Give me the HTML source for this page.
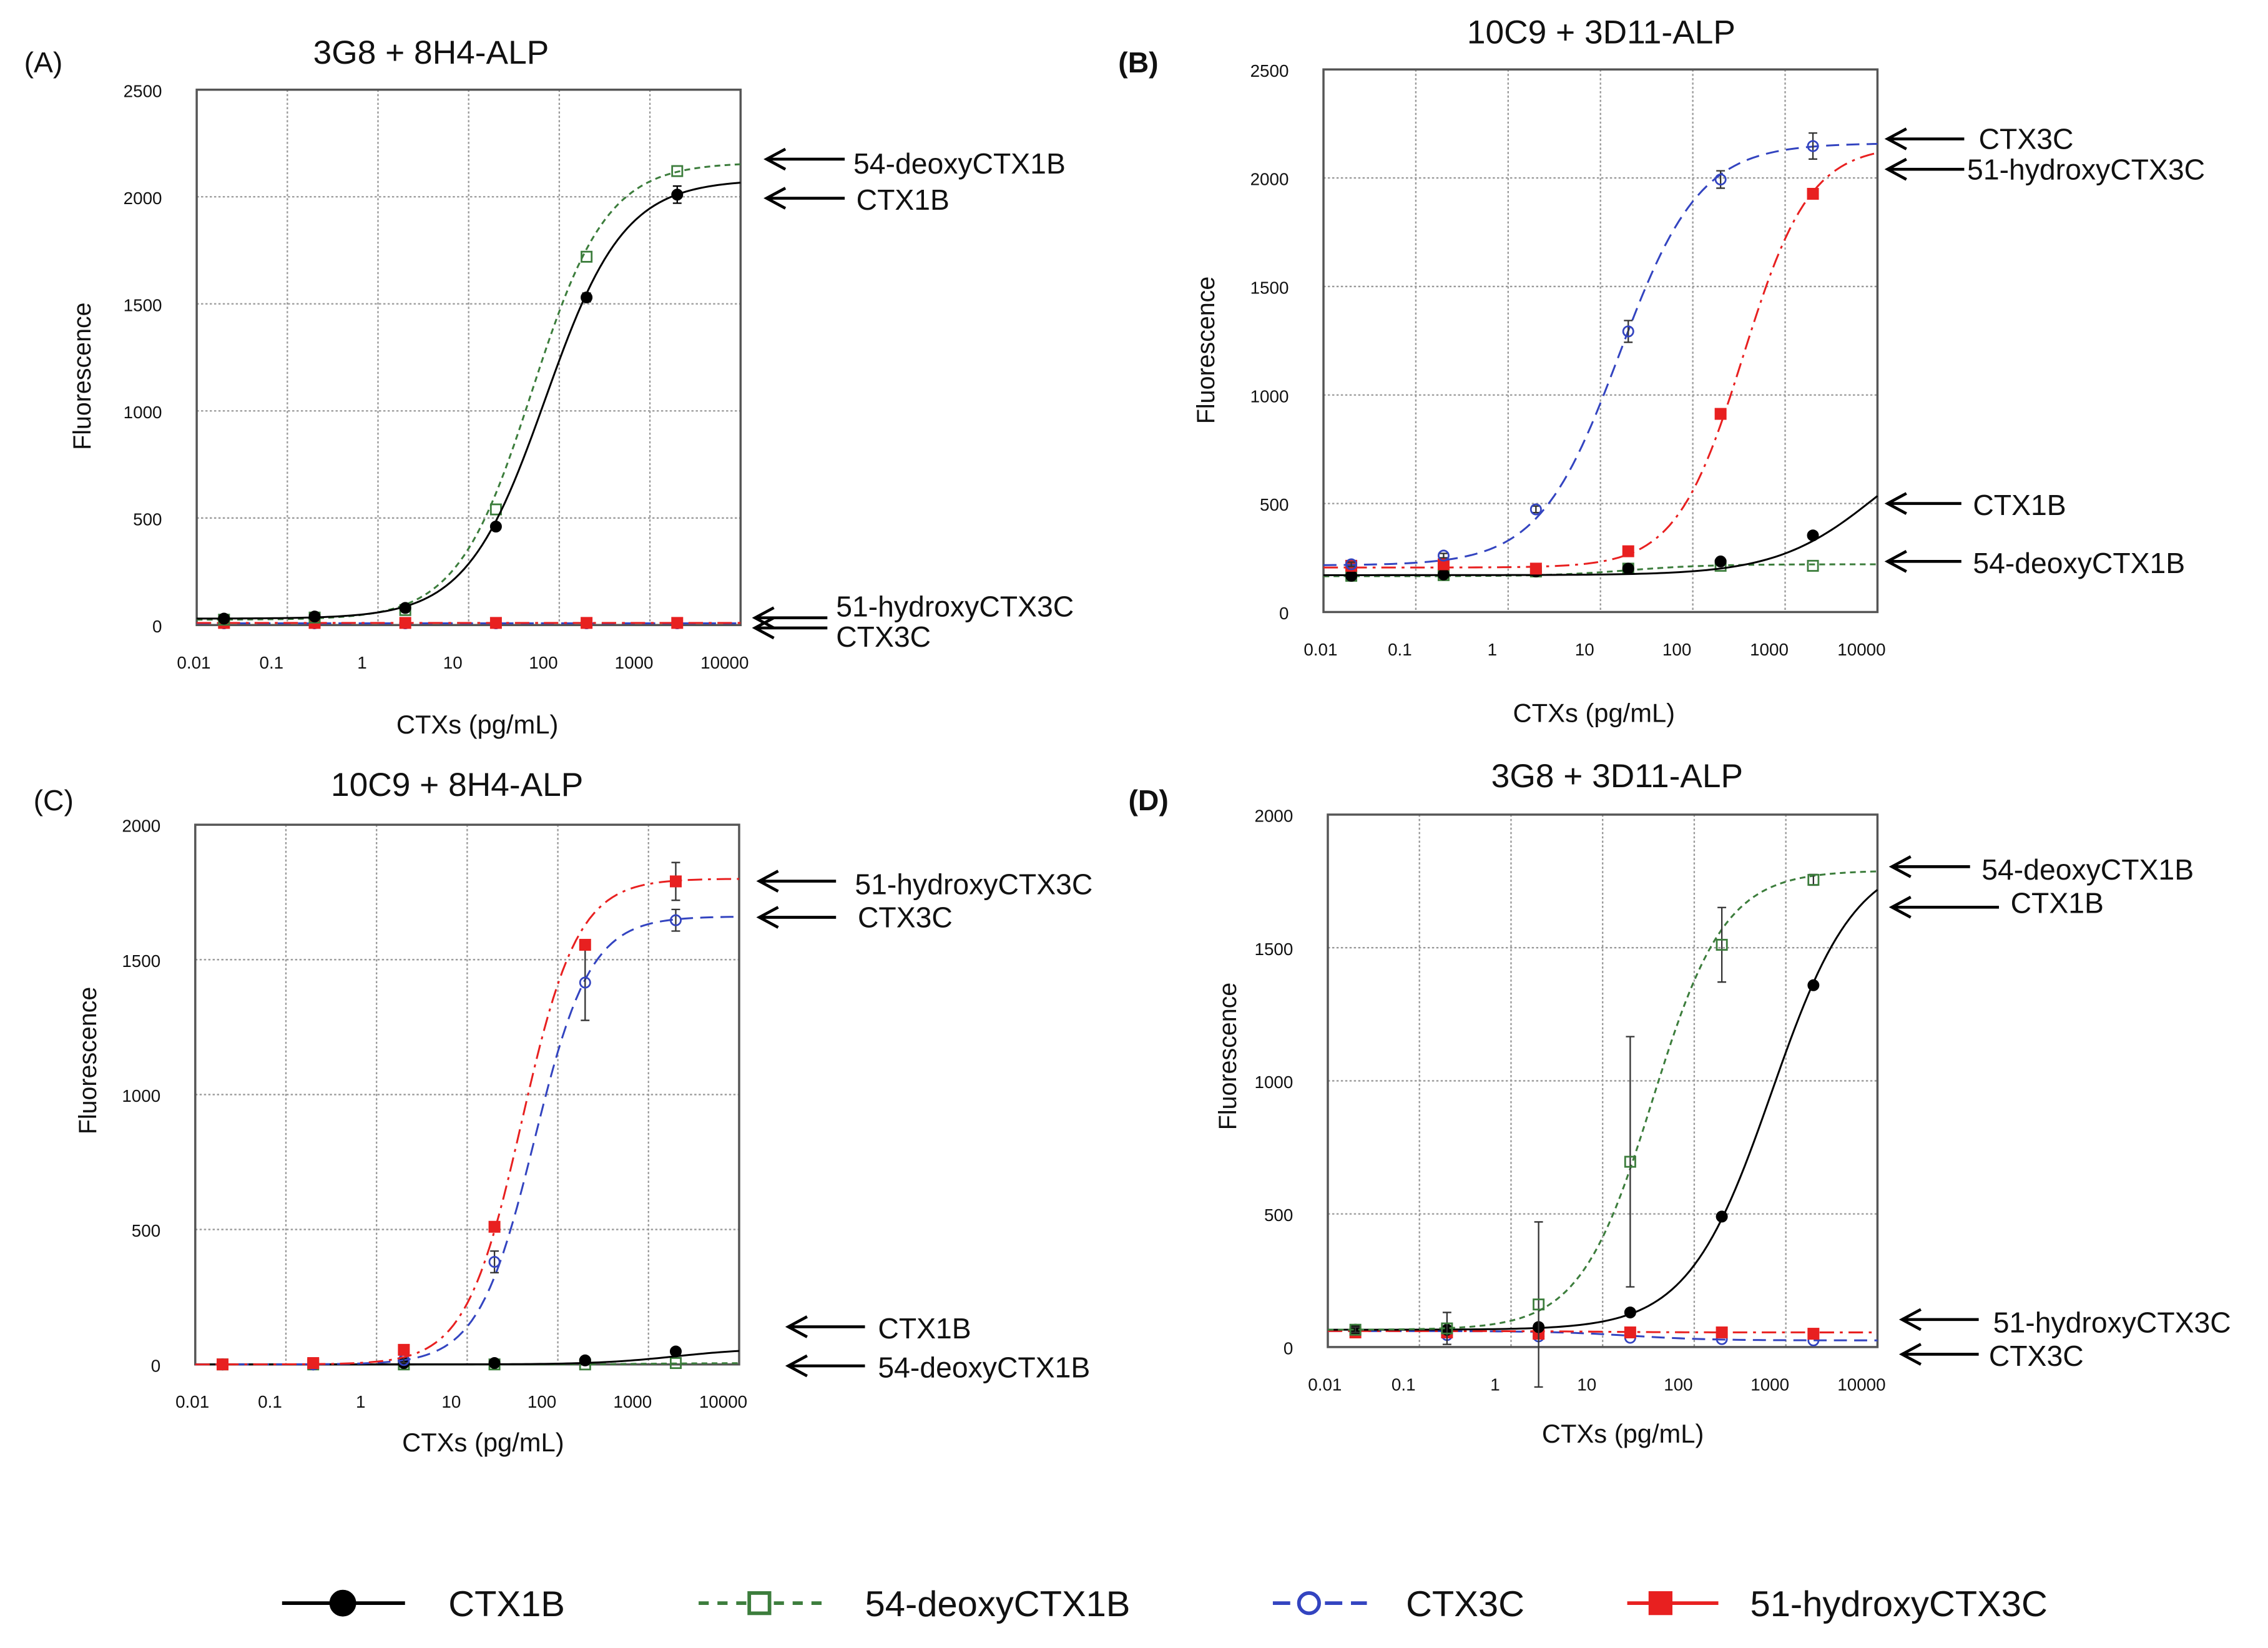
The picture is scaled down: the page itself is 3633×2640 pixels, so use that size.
<!DOCTYPE html>
<html><head><meta charset="utf-8"><style>
html,body{margin:0;padding:0;background:#fff;}
svg{display:block;}
text{font-family:"Liberation Sans",sans-serif;fill:#111;}
</style></head><body>
<svg id="fig" width="3633" height="2640" viewBox="0 0 1568 1139" preserveAspectRatio="none" xmlns="http://www.w3.org/2000/svg">
<g id="root"></g>
</svg>
<script>
const conc = [0.02, 0.2, 2, 20, 200, 2000];
const xTickLabels = ["0.01","0.1","1","10","100","1000","10000"];
const yTicks2500 = [0,500,1000,1500,2000,2500];
const yTicks2000 = [0,500,1000,1500,2000];
// Panel A
const aCtx1b = [30, 40, 80, 460, 1530, 2010];
const aCtx1bErr = [10, 10, 10, 15, 20, 40];
const aDeoxy = [25, 35, 70, 540, 1720, 2120];
const aHydroxy = [10, 10, 10, 10, 10, 10];
const aCtx3c = [8, 8, 8, 8, 8, 8];
const aFitCtx1b = [30, 2080, 70, 1];
const aFitDeoxy = [25, 2160, 50, 1.05];
const aFitHydroxy = [10, 10, 1, 1];
const aFitCtx3c = [8, 8, 1, 1];
// Panel B
const bCtx3c = [220, 260, 473, 1293, 1993, 2147];
const bCtx3cErr = [10, 10, 15, 50, 40, 60];
const bHydroxy = [213, 220, 200, 280, 913, 1927];
const bCtx1b = [167, 173, 187, 200, 233, 353];
const bDeoxy = [167, 170, 187, 200, 213, 213];
const bFitCtx3c = [215, 2160, 16, 1];
const bFitHydroxy = [205, 2150, 350, 1.2];
const bFitCtx1b = [170, 900, 10000, 0.8];
const bFitDeoxy = [165, 220, 20, 1];
// Panel C
const cHydroxy = [0, 5, 54, 510, 1555, 1790];
const cHydroxyErr = [5, 5, 10, 10, 10, 70];
const cCtx3c = [0, 0, 16, 380, 1415, 1646];
const cCtx3cErr = [5, 5, 10, 40, 140, 40];
const cCtx1b = [0, 0, 5, 5, 15, 48];
const cDeoxy = [0, 0, 0, 0, 0, 5];
const cFitHydroxy = [0, 1800, 40, 1.4];
const cFitCtx3c = [0, 1660, 55, 1.4];
const cFitCtx1b = [0, 60, 2000, 1];
const cFitDeoxy = [0, 5, 1000, 1];
// Panel D
const dDeoxy = [65, 70, 160, 696, 1511, 1755];
const dDeoxyErr = [10, 60, 310, 470, 140, 20];
const dCtx1b = [65, 65, 75, 130, 490, 1359];
const dHydroxy = [55, 55, 50, 55, 55, 50];
const dCtx3c = [60, 45, 40, 35, 30, 25];
const dFitDeoxy = [65, 1790, 35, 1.1];
const dFitCtx1b = [65, 1850, 700, 0.95];
const dFitHydroxy = [60, 55, 10, 1];
const dFitCtx3c = [60, 25, 20, 1];

const NS = "http://www.w3.org/2000/svg";
const root = document.getElementById("root");
function mk(tag, attrs, parent){const e=document.createElementNS(NS,tag);for(const k in attrs)e.setAttribute(k,attrs[k]);(parent||root).appendChild(e);return e;}
function txt(s, attrs, parent){const e=mk("text",attrs,parent);e.textContent=s;return e;}

const STY = {
  ctx1b:{c:"#000",dash:"none",m:"circle",fill:"#000"},
  deoxy:{c:"#3c7d3c",dash:"4,3",m:"square",fill:"none"},
  ctx3c:{c:"#3344c0",dash:"9,5",m:"circle",fill:"none"},
  hydroxy:{c:"#e82020",dash:"10,4,2,4",m:"square",fill:"#e82020"}
};
function fit(p,x){return p[0]+(p[1]-p[0])/(1+Math.pow(p[2]/x,p[3]));}

function panel(P, series){
  const g = mk("g",{});
  
  
  const xs = v => P.l + (Math.log10(v)+2)/6*(P.r-P.l);
  const ys = v => P.b - v/P.ymax*(P.b-P.t);
  for(let i=1;i<6;i++){const x=xs(Math.pow(10,i-2));const l=mk("line",{x1:x,x2:x,y1:P.t,y2:P.b,stroke:"#999","stroke-width":1,"stroke-dasharray":"1.5,1.5"},g);}
  P.yt.forEach(v=>{if(v>0&&v<P.ymax){const y=ys(v);const l=mk("line",{x1:P.l,x2:P.r,y1:y,y2:y,stroke:"#999","stroke-width":1,"stroke-dasharray":"1.5,1.5"},g);}
    const t=txt(String(v),{x:P.l-24,y:ys(v)+5,"font-size":12,"text-anchor":"end"},g);});
  xTickLabels.forEach((s,i)=>{const t=txt(s,{x:xs(Math.pow(10,i-2))-(i==0?2:11),y:P.b+30,"font-size":12,"text-anchor":"middle"},g);});
  const fr=mk("rect",{x:P.l,y:P.t,width:P.r-P.l,height:P.b-P.t,fill:"none",stroke:"#555","stroke-width":1.5},g);
  
  series.forEach(s=>{
    const st=STY[s.k];
    let d="";for(let i=0;i<=120;i++){const x=Math.pow(10,-2+6*i/120);d+=(i?"L":"M")+xs(x).toFixed(2)+","+ys(fit(s.fit,x)).toFixed(2);}
    const pl=mk("path",{d:d,fill:"none",stroke:st.c,"stroke-width":1.3,"stroke-dasharray":st.dash},g);
    
    s.v.forEach((v,i)=>{
      const x=xs(conc[i]),y=ys(v);
      if(s.e){const e=s.e[i];const eb=mk("path",{d:`M${x},${ys(v+e)}L${x},${ys(v-e)}M${x-3},${ys(v+e)}L${x+3},${ys(v+e)}M${x-3},${ys(v-e)}L${x+3},${ys(v-e)}`,stroke:st.c==="#000"?"#000":"#333","stroke-width":1,fill:"none"},g);}
      let m;
      if(st.m==="circle") m=mk("circle",{cx:x,cy:y,r:3.5,fill:st.fill,stroke:st.c,"stroke-width":1.2},g);
      else m=mk("rect",{x:x-3.5,y:y-3.5,width:7,height:7,fill:st.fill,stroke:st.c,"stroke-width":1.2},g);
      
    });
  });
}

panel({id:"panel-a",l:136,r:512,t:62,b:432,ymax:2500,yt:yTicks2500},[
 {k:"ctx3c",v:aCtx3c,fit:aFitCtx3c},{k:"hydroxy",v:aHydroxy,fit:aFitHydroxy},
 {k:"deoxy",v:aDeoxy,fit:aFitDeoxy},{k:"ctx1b",v:aCtx1b,e:aCtx1bErr,fit:aFitCtx1b}]);
panel({id:"panel-b",l:915,r:1298,t:48,b:423,ymax:2500,yt:yTicks2500},[
 {k:"deoxy",v:bDeoxy,fit:bFitDeoxy},{k:"ctx1b",v:bCtx1b,fit:bFitCtx1b},
 {k:"hydroxy",v:bHydroxy,fit:bFitHydroxy},{k:"ctx3c",v:bCtx3c,e:bCtx3cErr,fit:bFitCtx3c}]);
panel({id:"panel-c",l:135,r:511,t:570,b:943,ymax:2000,yt:yTicks2000},[
 {k:"deoxy",v:cDeoxy,fit:cFitDeoxy},{k:"ctx1b",v:cCtx1b,fit:cFitCtx1b},
 {k:"ctx3c",v:cCtx3c,e:cCtx3cErr,fit:cFitCtx3c},{k:"hydroxy",v:cHydroxy,e:cHydroxyErr,fit:cFitHydroxy}]);
panel({id:"panel-d",l:918,r:1298,t:563,b:931,ymax:2000,yt:yTicks2000},[
 {k:"ctx3c",v:dCtx3c,fit:dFitCtx3c},{k:"hydroxy",v:dHydroxy,fit:dFitHydroxy},
 {k:"ctx1b",v:dCtx1b,fit:dFitCtx1b},{k:"deoxy",v:dDeoxy,e:dDeoxyErr,fit:dFitDeoxy}]);

function label(s,x,y,size,name,extra){const t=txt(s,Object.assign({x:x,y:y,"font-size":size,"text-anchor":"middle"},extra||{}));return t;}
label("(A)",30,50,20,"panel-a-label");label("(B)",787,50,20,"panel-b-label",{"font-weight":"bold"});
label("(C)",37,560,20,"panel-c-label");label("(D)",794,560,20,"panel-d-label",{"font-weight":"bold"});
label("3G8 + 8H4-ALP",298,44,23,"panel-a-title");label("10C9 + 3D11-ALP",1107,30,23,"panel-b-title");
label("10C9 + 8H4-ALP",316,550,23,"panel-c-title");label("3G8 + 3D11-ALP",1118,544,23,"panel-d-title");
[[58,260],[835,242],[62,733],[850,730]].forEach(p=>label("Fluorescence",p[0],p[1],17,"y-axis-title",{transform:`rotate(-90 ${p[0]} ${p[1]})`,"dominant-baseline":"middle"}));
[[330,507],[1102,499],[334,1003],[1122,997]].forEach(p=>label("CTXs (pg/mL)",p[0],p[1],18,"x-axis-title"));

function ann(s,x1,x2,y,tx,ty){
  const l=mk("path",{d:`M${x1},${y}L${x2+1},${y}M${x2+13},${y-7}L${x2},${y}L${x2+13},${y+7}`,fill:"none",stroke:"#000","stroke-width":2});
  
  if(s){const t=txt(s,{x:tx,y:ty,"font-size":20});}
}
ann("54-deoxyCTX1B",584,530,110,590,120);ann("CTX1B",584,530,137,592,145);
ann("",572,522,427,0,0);ann("",572,522,434,0,0);
label("51-hydroxyCTX3C",578,426,20,"annotation-label",{"text-anchor":"start"});label("CTX3C",578,447,20,"annotation-label",{"text-anchor":"start"});
ann("CTX3C",1358,1305,96,1368,103);ann("51-hydroxyCTX3C",1358,1305,117,1360,124);
ann("CTX1B",1356,1305,348,1364,356);ann("54-deoxyCTX1B",1356,1305,388,1364,396);
ann("51-hydroxyCTX3C",578,525,609,591,618);ann("CTX3C",578,525,634,593,641);
ann("CTX1B",598,545,917,607,925);ann("54-deoxyCTX1B",598,545,944,607,952);
ann("54-deoxyCTX1B",1362,1308,599,1370,608);ann("CTX1B",1382,1308,627,1390,631);
ann("51-hydroxyCTX3C",1368,1315,912,1378,921);ann("CTX3C",1368,1315,936,1375,944);

function leg(k,x1,x2,mx,tx,s){
  const st=STY[k];
  const g=mk("g",{});
  mk("line",{x1:x1,x2:x2,y1:1108,y2:1108,stroke:st.c,"stroke-width":2.5,"stroke-dasharray":k==="deoxy"?"7,6":(k==="ctx3c"?"12,6":"none")},g);
  if(st.m==="circle") mk("circle",{cx:mx,cy:1108,r:k==="ctx1b"?8:7,fill:st.fill==="none"?"#fff":st.fill,stroke:st.c,"stroke-width":2.5},g);
  else mk("rect",{x:mx-7,y:1101,width:14,height:14,fill:st.fill==="none"?"#fff":st.fill,stroke:st.c,"stroke-width":2.5},g);
  txt(s,{x:tx,y:1117,"font-size":25},g);
}
leg("ctx1b",195,280,237,310,"CTX1B");
leg("deoxy",483,570,525,598,"54-deoxyCTX1B");
leg("ctx3c",880,945,905,972,"CTX3C");
leg("hydroxy",1125,1188,1148,1210,"51-hydroxyCTX3C");
</script>
</body></html>
